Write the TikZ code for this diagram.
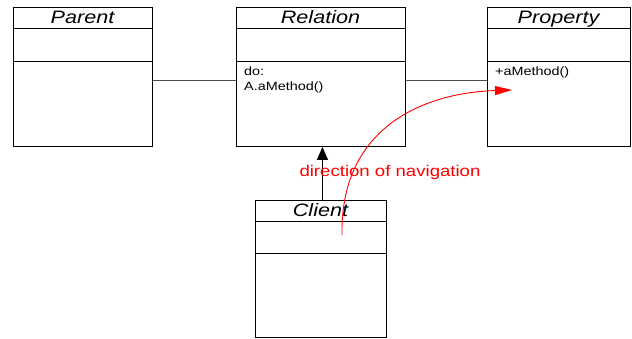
\documentclass[tikz,border=0pt]{standalone}
\usepackage{fontspec}
\setmainfont{Liberation Sans}[FakeStretch=1.2]
\usetikzlibrary{arrows.meta}
\tikzset{
  classbox/.style={draw=black, line width=0.9pt, rectangle, inner sep=0pt, anchor=north west},
  classtitle/.style={font=\fontsize{18}{20}\selectfont\itshape, anchor=base, inner sep=0pt},
  member/.style={font=\fontsize{12}{14}\selectfont, anchor=base west, inner sep=0pt, align=left},
  compline/.style={draw=black, line width=0.9pt},
  assoc/.style={draw=black!70, line width=0.9pt},
  nav/.style={draw=red, line width=0.9pt, -{Triangle[length=17pt,width=9pt]}}
}
\begin{document}
\begin{tikzpicture}[x=1pt, y=-1pt]
\useasboundingbox (0,0) rectangle (632,339);

% Parent
\node[classbox, minimum width=139pt, minimum height=139pt] (parent) at (13,7) {};
\node[classtitle] (parentT) at (82.5,24) {Parent};
\draw[compline] (13,28) -- (152,28);
\draw[compline] (13,61) -- (152,61);

% Relation
\node[classbox, minimum width=169pt, minimum height=139pt] (relation) at (236,7) {};
\node[classtitle] (relationT) at (320.5,24) {Relation};
\draw[compline] (236,28) -- (405,28);
\draw[compline] (236,61) -- (405,61);
\node[member] (relationM1) at (244,76) {do:};
\node[member] (relationM2) at (244,91) {A.aMethod()};

% Property
\node[classbox, minimum width=143pt, minimum height=139pt] (property) at (487,7) {};
\node[classtitle] (propertyT) at (558.5,24) {Property};
\draw[compline] (487,28) -- (630,28);
\draw[compline] (487,61) -- (630,61);
\node[member] (propertyM1) at (495,76) {+aMethod()};

% Client
\node[classbox, minimum width=131pt, minimum height=137pt] (client) at (255,200) {};
\node[classtitle] (clientT) at (320.5,217) {Client};
\draw[compline] (255,221) -- (386,221);
\draw[compline] (255,253) -- (386,253);

% associations
\draw[assoc] ([yshift=-3.5pt]parent.east) -- ([yshift=-3.5pt]relation.west);
\draw[assoc] ([yshift=-3.5pt]relation.east) -- ([yshift=-3.5pt]property.west);
\draw[draw=black, line width=0.9pt, -{Triangle[length=13pt,width=11pt]}] ([xshift=1.5pt]client.north) -- ([xshift=1.5pt]relation.south);

% navigation arrow
\coordinate (navStart) at (342,235);
\coordinate (navEnd) at (512,90);
\draw[nav] (navStart) .. controls (340,130) and (420,93) .. (navEnd);
\node[text=red, font=\fontsize{15.5}{17}\selectfont, inner sep=0pt, anchor=base] (navLabel) at (390,177) {direction of navigation};
\end{tikzpicture}
\end{document}
